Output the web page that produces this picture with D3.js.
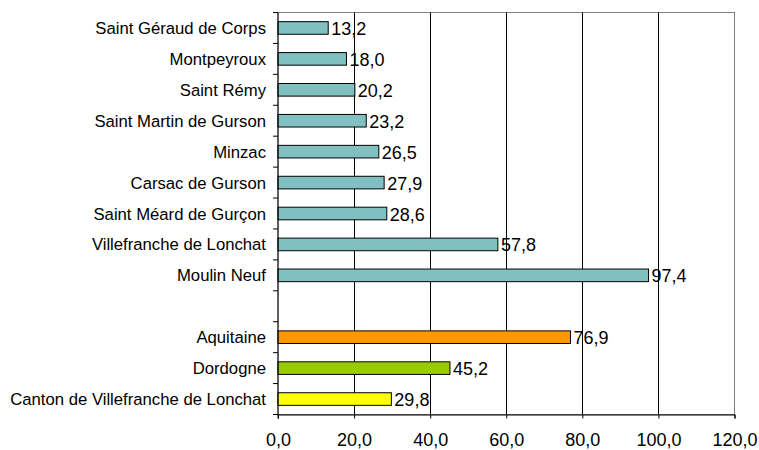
<!DOCTYPE html>
<html>
<head>
<meta charset="utf-8">
<script src="https://cdn.jsdelivr.net/npm/d3@7"></script>
<style>
  body { margin: 0; background: #fff; }
  text { font-family: "Liberation Sans", Arial, sans-serif; fill: #000; }
</style>
</head>
<body>
<svg id="svg1" width="759" height="450"></svg>
<script>
// data
var categories = ["Saint Géraud de Corps", "Montpeyroux", "Saint Rémy", "Saint Martin de Gurson",
  "Minzac", "Carsac de Gurson", "Saint Méard de Gurçon", "Villefranche de Lonchat", "Moulin Neuf",
  "", "Aquitaine", "Dordogne", "Canton de Villefranche de Lonchat"];
var values = [13.2, 18.0, 20.2, 23.2, 26.5, 27.9, 28.6, 57.8, 97.4, null, 76.9, 45.2, 29.8];
var colors = ["#80c0c0", "#80c0c0", "#80c0c0", "#80c0c0", "#80c0c0", "#80c0c0", "#80c0c0", "#80c0c0", "#80c0c0",
  null, "#ff9900", "#99cc00", "#ffff00"];
var xTicks = [0, 20, 40, 60, 80, 100, 120];

var svg = d3.select("#svg1");
var margin = {top: 12.5, right: 24.5, bottom: 35.5, left: 278};
var width = +svg.attr("width") - margin.left - margin.right,
    height = +svg.attr("height") - margin.top - margin.bottom;

var fmt = function(v) { return d3.format(".1f")(v).replace(".", ","); };

var x = d3.scaleLinear().domain([0, 120]).range([0, width]);
var yb = d3.scaleBand().domain(d3.range(categories.length)).range([0, height]);

var g = svg.append("g")
    .attr("transform", "translate(" + margin.left + "," + margin.top + ")");

// plot border (gray)
g.append("rect")
    .attr("width", width)
    .attr("height", height)
    .attr("fill", "none")
    .attr("stroke", "#808080")
    .attr("stroke-width", 1);

// vertical gridlines
g.selectAll(".grid")
  .data(xTicks.slice(1, -1))
  .enter().append("line")
    .attr("x1", function(d) { return Math.round(x(d)) + 0.5; })
    .attr("x2", function(d) { return Math.round(x(d)) + 0.5; })
    .attr("y1", 0)
    .attr("y2", height)
    .attr("stroke", "#000")
    .attr("stroke-width", 1);

// bars
var idx = d3.range(categories.length).filter(function(i) { return values[i] != null; });
g.selectAll(".bar")
  .data(idx)
  .enter().append("rect")
    .attr("class", "bar")
    .attr("x", 0)
    .attr("y", function(i) { return yb(i) + yb.bandwidth() / 2 - 6.3; })
    .attr("width", function(i) { return x(values[i]); })
    .attr("height", 12.6)
    .attr("fill", function(i) { return colors[i]; })
    .attr("stroke", "#000")
    .attr("stroke-width", 1);

// value labels
g.selectAll(".val")
  .data(idx)
  .enter().append("text")
    .attr("x", function(i) { return x(values[i]) + 3; })
    .attr("y", function(i) { return yb(i) + yb.bandwidth() / 2 + 7; })
    .style("font-size", "18px")
    .text(function(i) { return fmt(values[i]); });

// x axis
var xAxis = d3.axisBottom(x).tickValues(xTicks).tickSize(4).tickPadding(15).tickFormat(fmt);
var gx = g.append("g")
    .attr("transform", "translate(0," + height + ")")
    .call(xAxis);
gx.select(".domain").attr("stroke", "#000");
gx.selectAll("text").style("font-size", "18px").style("font-family", "Liberation Sans, Arial, sans-serif").attr("fill", "#000");

// y axis: ticks between categories
var gy = g.append("g");
gy.append("line")
    .attr("x1", 0).attr("x2", 0)
    .attr("y1", 0).attr("y2", height + 4)
    .attr("stroke", "#000");
gy.selectAll(".ytick")
  .data(d3.range(categories.length + 1))
  .enter().append("line")
    .attr("x1", -5).attr("x2", 0)
    .attr("y1", function(i) { return i * yb.step(); })
    .attr("y2", function(i) { return i * yb.step(); })
    .attr("stroke", "#000");
gy.selectAll(".ylab")
  .data(d3.range(categories.length))
  .enter().append("text")
    .attr("x", -12)
    .attr("y", function(i) { return yb(i) + yb.bandwidth() / 2 + 6; })
    .attr("text-anchor", "end")
    .style("font-size", "16.7px")
    .text(function(i) { return categories[i]; });
</script>
</body>
</html>
